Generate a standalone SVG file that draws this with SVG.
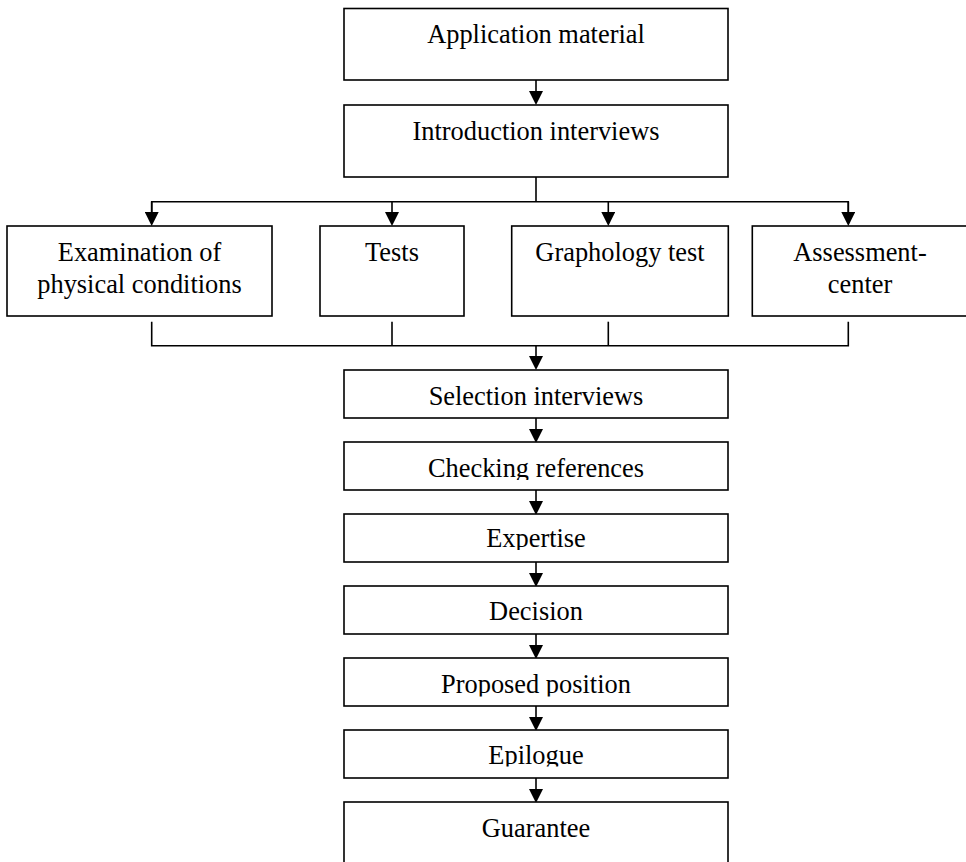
<svg xmlns="http://www.w3.org/2000/svg" width="966" height="862" viewBox="0 0 966 862">
<style>
.box{fill:#fff;stroke:#000;stroke-width:1.6}
.t{font-family:"Liberation Serif","Times New Roman",serif;font-size:26.4px;fill:#000;text-anchor:middle}
.c{fill:none;stroke:#000;stroke-width:1.6}
</style>
<defs>
<marker id="ah" markerUnits="userSpaceOnUse" markerWidth="14" markerHeight="14" refX="0" refY="7" orient="auto" viewBox="0 0 14 14">
<path d="M0,0 L14,7 L0,14 z" fill="#000"/>
</marker>
<clipPath id="cl1"><rect x="344" y="442" width="384" height="38"/></clipPath>
<clipPath id="cl2"><rect x="344" y="514" width="384" height="36"/></clipPath>
<clipPath id="cl3"><rect x="344" y="658" width="384" height="38.5"/></clipPath>
<clipPath id="cl4"><rect x="344" y="730" width="384" height="36.5"/></clipPath>
</defs>
<g id="connectors">
<line class="c" x1="536" y1="80" x2="536" y2="91" marker-end="url(#ah)"/>
<polyline class="c" points="536,177 536,201.7"/>
<polyline class="c" points="151.7,212 151.7,201.7 848.3,201.7 848.3,212"/>
<line class="c" x1="151.7" y1="201.7" x2="151.7" y2="212" marker-end="url(#ah)"/>
<line class="c" x1="392" y1="201.7" x2="392" y2="212" marker-end="url(#ah)"/>
<line class="c" x1="608.3" y1="201.7" x2="608.3" y2="212" marker-end="url(#ah)"/>
<line class="c" x1="848.3" y1="201.7" x2="848.3" y2="212" marker-end="url(#ah)"/>
<polyline class="c" points="151.7,321.7 151.7,345.7 848.3,345.7 848.3,321.7"/>
<line class="c" x1="392" y1="321.7" x2="392" y2="345.7"/>
<line class="c" x1="608.3" y1="321.7" x2="608.3" y2="345.7"/>
<line class="c" x1="536" y1="345.7" x2="536" y2="356" marker-end="url(#ah)"/>
<line class="c" x1="536" y1="418" x2="536" y2="429" marker-end="url(#ah)"/>
<line class="c" x1="536" y1="490" x2="536" y2="501" marker-end="url(#ah)"/>
<line class="c" x1="536" y1="562" x2="536" y2="573" marker-end="url(#ah)"/>
<line class="c" x1="536" y1="634" x2="536" y2="645" marker-end="url(#ah)"/>
<line class="c" x1="536" y1="706" x2="536" y2="717" marker-end="url(#ah)"/>
<line class="c" x1="536" y1="778" x2="536" y2="789" marker-end="url(#ah)"/>
</g>
<g id="n-application">
<rect class="box" x="344" y="8.5" width="384" height="71.5"/>
<text class="t" x="536" y="43">Application material</text>
</g>
<g id="n-introduction">
<rect class="box" x="344" y="105" width="384" height="72"/>
<text class="t" x="536" y="140">Introduction interviews</text>
</g>
<g id="n-examination">
<rect class="box" x="7" y="226" width="265" height="90"/>
<text class="t" x="139.5" y="260.7">Examination of</text>
<text class="t" x="139.5" y="293.3">physical conditions</text>
</g>
<g id="n-tests">
<rect class="box" x="320" y="226" width="144" height="90"/>
<text class="t" x="392" y="260.7">Tests</text>
</g>
<g id="n-graphology">
<rect class="box" x="511.7" y="226" width="216.6" height="90"/>
<text class="t" x="620" y="260.7">Graphology test</text>
</g>
<g id="n-assessment">
<rect class="box" x="752.3" y="226" width="215.4" height="90"/>
<text class="t" x="860" y="260.7">Assessment-</text>
<text class="t" x="860" y="293.3">center</text>
</g>
<g id="n-selection">
<rect class="box" x="344" y="370" width="384" height="48"/>
<text class="t" x="536" y="405">Selection interviews</text>
</g>
<g id="n-checking">
<rect class="box" x="344" y="442" width="384" height="48"/>
<text class="t" x="536" y="477.3" clip-path="url(#cl1)">Checking references</text>
</g>
<g id="n-expertise">
<rect class="box" x="344" y="514" width="384" height="48"/>
<text class="t" x="536" y="547" clip-path="url(#cl2)">Expertise</text>
</g>
<g id="n-decision">
<rect class="box" x="344" y="586" width="384" height="48"/>
<text class="t" x="536" y="620">Decision</text>
</g>
<g id="n-proposed">
<rect class="box" x="344" y="658" width="384" height="48"/>
<text class="t" x="536" y="693.3" clip-path="url(#cl3)">Proposed position</text>
</g>
<g id="n-epilogue">
<rect class="box" x="344" y="730" width="384" height="48"/>
<text class="t" x="536" y="763.5" clip-path="url(#cl4)">Epilogue</text>
</g>
<g id="n-guarantee">
<rect class="box" x="344" y="802" width="384" height="80"/>
<text class="t" x="536" y="836.7">Guarantee</text>
</g>
</svg>
